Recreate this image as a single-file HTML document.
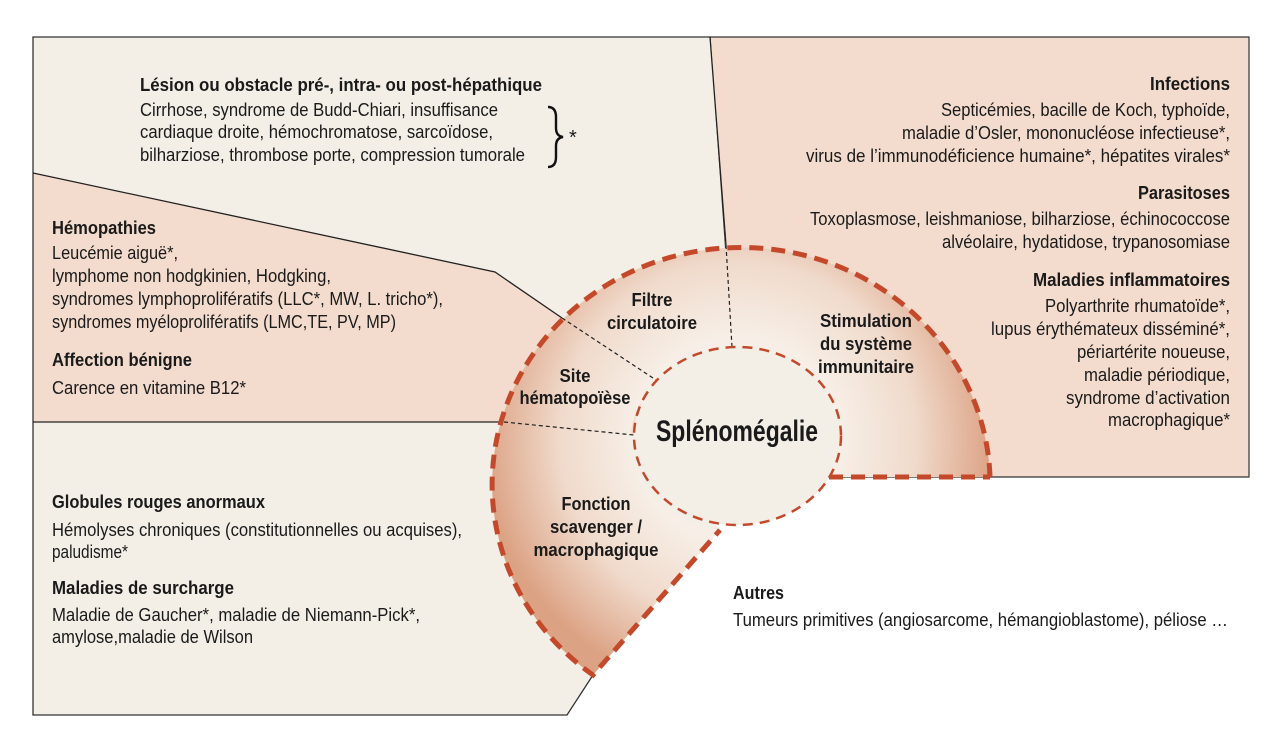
<!DOCTYPE html>
<html><head><meta charset="utf-8"><style>
html,body{margin:0;padding:0;background:#fff;}
svg{display:block;}
text{font-family:"Liberation Sans Narrow","Liberation Sans",sans-serif;fill:#1a1a1a;}
.b{font-weight:bold;font-size:18px;}
.t{font-size:18px;}
.c{font-weight:bold;font-size:18px;text-anchor:middle;}
.r{text-anchor:end;}
</style></head><body>
<svg width="1280" height="751" viewBox="0 0 1280 751" xmlns="http://www.w3.org/2000/svg">
<defs>
<radialGradient id="g" gradientUnits="userSpaceOnUse" cx="738" cy="440" r="255" fx="738" fy="440">
<stop offset="0.4" stop-color="#f7efe7"/>
<stop offset="0.7" stop-color="#f0dacb"/>
<stop offset="1" stop-color="#dca284"/>
</radialGradient>
</defs>
<rect width="1280" height="751" fill="#fff"/>
<polygon points="710,37 1249,37 1249,477 741,477 732,347" fill="#f3dccd" stroke="#333" stroke-width="1.2"/>
<polygon points="33,37 710,37 732,347 656,380 562,318 495,272 33,173" fill="#f3efe7"/>
<polygon points="33,173 495,272 656,380 634,435 504,422 33,422" fill="#f3dccd"/>
<polygon points="33,422 504,422 634,435 720,530 593,675 567,715 33,715" fill="#f3efe7"/>
<polyline points="710,37 33,37 33,715 567,715 593,675" fill="none" stroke="#333" stroke-width="1.3"/>
<polyline points="33,173 495,272 562,318" fill="none" stroke="#222" stroke-width="1.3"/>
<line x1="33" y1="422" x2="504" y2="422" stroke="#222" stroke-width="1.3"/>
<line x1="710" y1="37" x2="726" y2="245" stroke="#222" stroke-width="1.3"/>
<path d="M990,477 A249,237 0 1 0 593,675 L720,530 A103.5,89 0 1 1 829,477 Z" fill="url(#g)"/>
<g stroke="#222" stroke-width="1.2" stroke-dasharray="4,3" fill="none">
<line x1="562" y1="318" x2="656" y2="380"/>
<line x1="504" y1="422" x2="634" y2="435"/>
<line x1="726" y1="245" x2="732" y2="347"/>
</g>
<path d="M990,477 A249,237 0 1 0 593,675 L720,530 M829,477 L990,477" fill="none" stroke="#c4492a" stroke-width="5" stroke-dasharray="14,8"/>
<ellipse cx="737.5" cy="436" rx="103.5" ry="89" fill="#f3efe7" stroke="#c4492a" stroke-width="2.5" stroke-dasharray="10,7"/>
<path d="M548,107 Q556,107 556,117 L556,128 Q556,136 563,137 Q556,138 556,146 L556,157 Q556,167 548,167" fill="none" stroke="#111" stroke-width="2.4"/>
<text x="569" y="144" style="font-size:20px">*</text>

<text class="b" x="140" y="91" textLength="402" lengthAdjust="spacingAndGlyphs">Lésion ou obstacle pré-, intra- ou post-hépathique</text>
<text class="t" x="140" y="116" textLength="358" lengthAdjust="spacingAndGlyphs">Cirrhose, syndrome de Budd-Chiari, insuffisance</text>
<text class="t" x="140" y="138" textLength="353" lengthAdjust="spacingAndGlyphs">cardiaque droite, hémochromatose, sarcoïdose,</text>
<text class="t" x="140" y="161" textLength="385" lengthAdjust="spacingAndGlyphs">bilharziose, thrombose porte, compression tumorale</text>

<text class="b" x="52" y="234" textLength="104" lengthAdjust="spacingAndGlyphs">Hémopathies</text>
<text class="t" x="52" y="259" textLength="126" lengthAdjust="spacingAndGlyphs">Leucémie aiguë*,</text>
<text class="t" x="52" y="282" textLength="279" lengthAdjust="spacingAndGlyphs">lymphome non hodgkinien, Hodgking,</text>
<text class="t" x="52" y="305" textLength="391" lengthAdjust="spacingAndGlyphs">syndromes lymphoprolifératifs (LLC*, MW, L. tricho*),</text>
<text class="t" x="52" y="328" textLength="344" lengthAdjust="spacingAndGlyphs">syndromes myéloprolifératifs (LMC,TE, PV, MP)</text>
<text class="b" x="52" y="366" textLength="140" lengthAdjust="spacingAndGlyphs">Affection bénigne</text>
<text class="t" x="52" y="394" textLength="194" lengthAdjust="spacingAndGlyphs">Carence en vitamine B12*</text>

<text class="b" x="52" y="508" textLength="213" lengthAdjust="spacingAndGlyphs">Globules rouges anormaux</text>
<text class="t" x="52" y="536" textLength="410" lengthAdjust="spacingAndGlyphs">Hémolyses chroniques (constitutionnelles ou acquises),</text>
<text class="t" x="52" y="558" textLength="76" lengthAdjust="spacingAndGlyphs">paludisme*</text>
<text class="b" x="52" y="594" textLength="182" lengthAdjust="spacingAndGlyphs">Maladies de surcharge</text>
<text class="t" x="52" y="621" textLength="368" lengthAdjust="spacingAndGlyphs">Maladie de Gaucher*, maladie de Niemann-Pick*,</text>
<text class="t" x="52" y="643" textLength="201" lengthAdjust="spacingAndGlyphs">amylose,maladie de Wilson</text>

<text class="b r" x="1230" y="90" textLength="80" lengthAdjust="spacingAndGlyphs">Infections</text>
<text class="t r" x="1230" y="116" textLength="289" lengthAdjust="spacingAndGlyphs">Septicémies, bacille de Koch, typhoïde,</text>
<text class="t r" x="1230" y="139" textLength="328" lengthAdjust="spacingAndGlyphs">maladie d’Osler, mononucléose infectieuse*,</text>
<text class="t r" x="1230" y="162" textLength="424" lengthAdjust="spacingAndGlyphs">virus de l’immunodéficience humaine*, hépatites virales*</text>
<text class="b r" x="1230" y="199" textLength="92" lengthAdjust="spacingAndGlyphs">Parasitoses</text>
<text class="t r" x="1230" y="225" textLength="420" lengthAdjust="spacingAndGlyphs">Toxoplasmose, leishmaniose, bilharziose, échinococcose</text>
<text class="t r" x="1230" y="248" textLength="288" lengthAdjust="spacingAndGlyphs">alvéolaire, hydatidose, trypanosomiase</text>
<text class="b r" x="1230" y="286" textLength="197" lengthAdjust="spacingAndGlyphs">Maladies inflammatoires</text>
<text class="t r" x="1230" y="312" textLength="185" lengthAdjust="spacingAndGlyphs">Polyarthrite rhumatoïde*,</text>
<text class="t r" x="1230" y="335" textLength="239" lengthAdjust="spacingAndGlyphs">lupus érythémateux disséminé*,</text>
<text class="t r" x="1230" y="358" textLength="153" lengthAdjust="spacingAndGlyphs">périartérite noueuse,</text>
<text class="t r" x="1230" y="381" textLength="146" lengthAdjust="spacingAndGlyphs">maladie périodique,</text>
<text class="t r" x="1230" y="404" textLength="164" lengthAdjust="spacingAndGlyphs">syndrome d’activation</text>
<text class="t r" x="1230" y="426" textLength="122" lengthAdjust="spacingAndGlyphs">macrophagique*</text>

<text class="b" x="733" y="599" textLength="51" lengthAdjust="spacingAndGlyphs">Autres</text>
<text class="t" x="733" y="626" textLength="495" lengthAdjust="spacingAndGlyphs">Tumeurs primitives (angiosarcome, hémangioblastome), péliose …</text>

<text class="c" x="652" y="306" textLength="41" lengthAdjust="spacingAndGlyphs">Filtre</text>
<text class="c" x="652" y="329" textLength="90" lengthAdjust="spacingAndGlyphs">circulatoire</text>
<text class="c" x="575" y="382" textLength="31" lengthAdjust="spacingAndGlyphs">Site</text>
<text class="c" x="575" y="404" textLength="111" lengthAdjust="spacingAndGlyphs">hématopoïèse</text>
<text class="c" x="866" y="327" textLength="92" lengthAdjust="spacingAndGlyphs">Stimulation</text>
<text class="c" x="866" y="350" textLength="92" lengthAdjust="spacingAndGlyphs">du système</text>
<text class="c" x="866" y="373" textLength="96" lengthAdjust="spacingAndGlyphs">immunitaire</text>
<text class="c" x="596" y="510" textLength="69" lengthAdjust="spacingAndGlyphs">Fonction</text>
<text class="c" x="596" y="533" textLength="92" lengthAdjust="spacingAndGlyphs">scavenger /</text>
<text class="c" x="596" y="556" textLength="125" lengthAdjust="spacingAndGlyphs">macrophagique</text>
<text x="737" y="441" text-anchor="middle" style="font-weight:bold;font-size:30px" textLength="162" lengthAdjust="spacingAndGlyphs">Splénomégalie</text>
</svg>
</body></html>
